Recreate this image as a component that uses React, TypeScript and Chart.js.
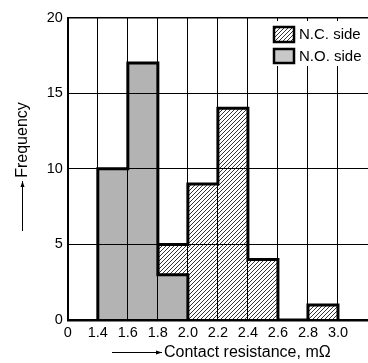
import React, { useEffect, useRef } from "react";
import { Chart, registerables } from "chart.js";
Chart.register(...registerables);

// Tick labels of the (broken) x axis: position 0 is "0", then bins from 1.4 to 3.0
const xTickLabels = ["0", "1.4", "1.6", "1.8", "2.0", "2.2", "2.4", "2.6", "2.8", "3.0", ""];
// Bin categories (lower edges, mΩ)
const binStarts = ["1.4", "1.6", "1.8", "2.0", "2.2", "2.4", "2.6", "2.8"];
// Frequencies per bin
const ncSide = [0, 0, 5, 9, 14, 4, 0, 1];
const noSide = [10, 17, 3, 0, 0, 0, 0, 0];
const seriesNames = ["N.C. side", "N.O. side"];
const yTitle = "Frequency";
const xTitle = "Contact resistance, mΩ";

const FONT = "'Liberation Sans', Arial, Helvetica, sans-serif";

function stepPoints(values: number[]) {
  const nz = values.map((v, i) => (v > 0 ? i : -1)).filter((i) => i >= 0);
  const first = nz[0];
  const last = nz[nz.length - 1];
  const pts: { x: number; y: number }[] = [{ x: first + 1, y: 0 }];
  for (let i = first; i <= last; i++) pts.push({ x: i + 1, y: values[i] });
  pts.push({ x: last + 2, y: 0 });
  return pts;
}

function makeHatch(): CanvasPattern | string {
  const c = document.createElement("canvas");
  c.width = 4;
  c.height = 4;
  const g = c.getContext("2d");
  if (!g) return "#ddd";
  g.fillStyle = "#fff";
  g.fillRect(0, 0, 4, 4);
  g.strokeStyle = "#000";
  g.lineWidth = 0.8;
  g.beginPath();
  g.moveTo(-1, 5);
  g.lineTo(5, -1);
  g.moveTo(-1, 1);
  g.lineTo(1, -1);
  g.moveTo(3, 5);
  g.lineTo(5, 3);
  g.stroke();
  return g.createPattern(c, "repeat") || "#ddd";
}

function arrow(ctx: CanvasRenderingContext2D, x1: number, y1: number, x2: number, y2: number) {
  ctx.save();
  ctx.strokeStyle = "#000";
  ctx.fillStyle = "#000";
  ctx.lineWidth = 1;
  ctx.beginPath();
  ctx.moveTo(x1, y1);
  ctx.lineTo(x2, y2);
  ctx.stroke();
  const ang = Math.atan2(y2 - y1, x2 - x1);
  const L = 6, W = 2;
  ctx.beginPath();
  ctx.moveTo(x2, y2);
  ctx.lineTo(x2 - L * Math.cos(ang) + W * Math.sin(ang), y2 - L * Math.sin(ang) - W * Math.cos(ang));
  ctx.lineTo(x2 - L * Math.cos(ang) - W * Math.sin(ang), y2 - L * Math.sin(ang) + W * Math.cos(ang));
  ctx.closePath();
  ctx.fill();
  ctx.restore();
}

export default function App() {
  const ref = useRef<HTMLCanvasElement | null>(null);
  useEffect(() => {
    if (!ref.current) return;
    const hatch = makeHatch();
    const grayFill = "#b3b3b3";
    const legendGray = "#c8c8c8";

    const overlay = {
      id: "overlay",
      afterDraw(chart: any) {
        const ctx: CanvasRenderingContext2D = chart.ctx;
        ctx.save();
        // Legend
        ctx.fillStyle = "#fff";
        ctx.fillRect(270, 21, 102, 45);
        ctx.lineWidth = 2.5;
        ctx.strokeStyle = "#000";
        ctx.fillStyle = hatch as any;
        ctx.fillRect(274, 27, 20, 15);
        ctx.strokeRect(274, 27, 20, 15);
        ctx.fillStyle = legendGray;
        ctx.fillRect(274, 49, 20, 14);
        ctx.strokeRect(274, 49, 20, 14);
        ctx.fillStyle = "#000";
        ctx.font = `15px ${FONT}`;
        ctx.textBaseline = "middle";
        ctx.textAlign = "left";
        ctx.fillText(seriesNames[0], 299, 34.5);
        ctx.fillText(seriesNames[1], 299, 56.5);
        // X title
        ctx.font = `16px ${FONT}`;
        ctx.fillText(xTitle, 164, 353);
        arrow(ctx, 112, 352.5, 162, 352.5);
        // Y title
        ctx.save();
        ctx.translate(23, 140);
        ctx.rotate(-Math.PI / 2);
        ctx.textAlign = "center";
        ctx.fillText(yTitle, 0, 0);
        ctx.restore();
        arrow(ctx, 22.5, 231, 22.5, 181);
        ctx.restore();
      },
    };

    const chart = new Chart(ref.current, {
      type: "line",
      data: {
        datasets: [
          {
            label: seriesNames[1],
            data: stepPoints(noSide),
            stepped: true,
            fill: "origin",
            backgroundColor: grayFill,
            borderColor: "#000",
            borderWidth: 3,
            pointRadius: 0,
            borderJoinStyle: "miter",
          } as any,
          {
            label: seriesNames[0],
            data: stepPoints(ncSide),
            stepped: true,
            fill: "origin",
            backgroundColor: hatch as any,
            borderColor: "#000",
            borderWidth: 3,
            pointRadius: 0,
            borderJoinStyle: "miter",
          } as any,
        ],
      },
      options: {
        responsive: false,
        maintainAspectRatio: false,
        animation: false,
        devicePixelRatio: 1,
        layout: { padding: { top: 17.5, right: 2.5, left: 0, bottom: 0 } },
        plugins: { legend: { display: false }, tooltip: { enabled: false } },
        scales: {
          x: {
            type: "linear",
            min: 0,
            max: 10,
            afterFit: (s: any) => {
              s.height = 43;
            },
            afterBuildTicks: (s: any) => {
              s.ticks = xTickLabels.map((_, i) => ({ value: i }));
            },
            ticks: {
              stepSize: 1,
              autoSkip: false,
              maxRotation: 0,
              padding: 4,
              color: "#000",
              font: { size: 14.5, family: FONT },
              callback: (v: any) => xTickLabels[Math.round(Number(v))] ?? "",
            },
            grid: { color: "#000", lineWidth: 1, drawTicks: false, z: 1 } as any,
            border: { display: true, color: "#000", width: 2.5, z: 2 } as any,
          },
          y: {
            type: "linear",
            min: 0,
            max: 20,
            afterFit: (s: any) => {
              s.width = 67.8;
            },
            ticks: {
              stepSize: 5,
              padding: 5,
              color: "#000",
              font: { size: 14.5, family: FONT },
            },
            grid: {
              color: "#000",
              lineWidth: (c: any) => (c.tick && c.tick.value === 20 ? 1.5 : 1),
              drawTicks: false,
              z: 1,
            } as any,
            border: { display: true, color: "#000", width: 2, z: 2 } as any,
          },
        },
      },
      plugins: [overlay],
    });
    return () => chart.destroy();
  }, []);

  return (
    <div
      style={{
        position: "fixed",
        left: 0,
        top: 0,
        width: 368,
        height: 363,
        overflow: "hidden",
        background: "#fff",
      }}
    >
      <canvas ref={ref} width={372} height={363} style={{ display: "block" }} />
    </div>
  );
}
